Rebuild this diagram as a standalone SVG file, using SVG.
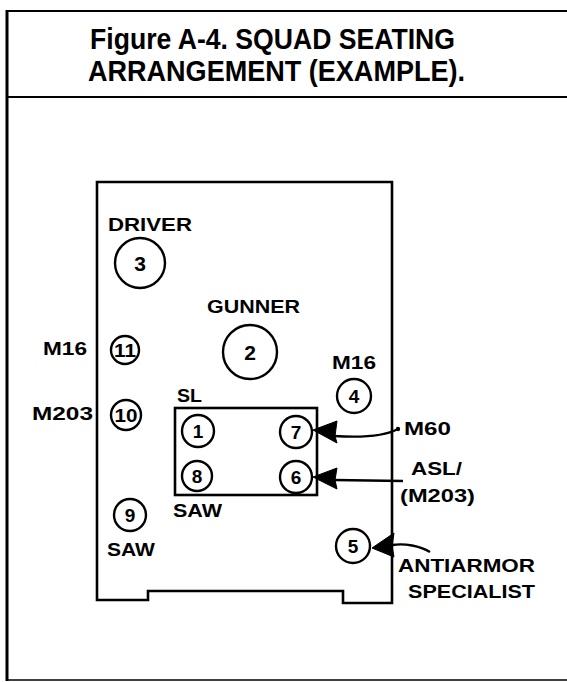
<svg xmlns="http://www.w3.org/2000/svg" width="567" height="682" viewBox="0 0 567 682">
<style>
text{font-family:"Liberation Sans",Arial,sans-serif;font-weight:bold;fill:#000}
.title{font-size:29px}
.lbl{font-size:18.5px}
.num{font-size:19px;text-anchor:middle}
.big{font-size:21px;text-anchor:middle}
.seat{fill:#fff;stroke:#000;stroke-width:2.4}
.frame{fill:none;stroke:#000}
.conn{fill:none;stroke:#000;stroke-width:2.4}
.head{fill:#000;stroke:#000;stroke-width:1;stroke-linejoin:round}
</style>
<rect width="567" height="682" fill="#fff"/>
<g id="frame">
<line class="frame" x1="7" y1="10" x2="7" y2="681" stroke-width="3"/>
<line class="frame" x1="6" y1="11" x2="567" y2="11" stroke-width="2"/>
<line class="frame" x1="6" y1="97" x2="567" y2="97" stroke-width="2"/>
<line class="frame" x1="6" y1="680" x2="567" y2="680" stroke-width="1.5"/>
<text class="title" x="90" y="49" textLength="365" lengthAdjust="spacingAndGlyphs">Figure A-4.  SQUAD SEATING</text>
<text class="title" x="88" y="81" textLength="377" lengthAdjust="spacingAndGlyphs">ARRANGEMENT (EXAMPLE).</text>
</g>
<g id="vehicle">
<path class="frame" stroke-width="2.6" d="M97,182 H392 V603 H343 V591 H148 V600 H97 Z"/>
</g>
<g id="squad-box">
<rect class="frame" stroke-width="2.6" x="175" y="408" width="142" height="87"/>
</g>
<g id="seat-3">
<circle class="seat" cx="140" cy="263" r="25"/>
<text class="big" x="140" y="270.5">3</text>
<text class="lbl" x="108" y="231" textLength="84" lengthAdjust="spacingAndGlyphs">DRIVER</text>
</g>
<g id="seat-2">
<circle class="seat" cx="250" cy="352" r="27"/>
<text class="big" x="250" y="359.5">2</text>
<text class="lbl" x="207" y="313" textLength="93" lengthAdjust="spacingAndGlyphs">GUNNER</text>
</g>
<g id="seat-11">
<circle class="seat" cx="125" cy="350" r="14"/>
<text class="num" x="125" y="357" textLength="22" lengthAdjust="spacingAndGlyphs">11</text>
<text class="lbl" x="43" y="355" textLength="44" lengthAdjust="spacingAndGlyphs">M16</text>
</g>
<g id="seat-10">
<circle class="seat" cx="126" cy="415" r="15"/>
<text class="num" x="126" y="422" textLength="23" lengthAdjust="spacingAndGlyphs">10</text>
<text class="lbl" x="32" y="420" textLength="61" lengthAdjust="spacingAndGlyphs">M203</text>
</g>
<g id="seat-4">
<circle class="seat" cx="354" cy="396" r="17"/>
<text class="num" x="354" y="403">4</text>
<text class="lbl" x="332" y="369" textLength="44" lengthAdjust="spacingAndGlyphs">M16</text>
</g>
<g id="seat-1">
<circle class="seat" cx="198" cy="431" r="16"/>
<text class="num" x="198" y="438">1</text>
<text class="lbl" x="177" y="402" textLength="25" lengthAdjust="spacingAndGlyphs">SL</text>
</g>
<g id="seat-7">
<circle class="seat" cx="296" cy="432" r="16"/>
<text class="num" x="296" y="439">7</text>
</g>
<g id="seat-8">
<circle class="seat" cx="197" cy="476" r="15"/>
<text class="num" x="197" y="483">8</text>
<text class="lbl" x="173" y="517" textLength="49" lengthAdjust="spacingAndGlyphs">SAW</text>
</g>
<g id="seat-6">
<circle class="seat" cx="296" cy="477" r="16"/>
<text class="num" x="296" y="484">6</text>
</g>
<g id="seat-9">
<circle class="seat" cx="130" cy="515" r="16"/>
<text class="num" x="130" y="522">9</text>
<text class="lbl" x="107" y="556" textLength="48" lengthAdjust="spacingAndGlyphs">SAW</text>
</g>
<g id="seat-5">
<circle class="seat" cx="353" cy="546" r="17"/>
<text class="num" x="353" y="553">5</text>
</g>
<g id="label-m60">
<text class="lbl" x="404" y="435" textLength="47" lengthAdjust="spacingAndGlyphs">M60</text>
</g>
<g id="label-asl">
<text class="lbl" x="411" y="475" textLength="51" lengthAdjust="spacingAndGlyphs">ASL/</text>
<text class="lbl" x="400" y="502" textLength="75" lengthAdjust="spacingAndGlyphs">(M203)</text>
</g>
<g id="label-antiarmor">
<text class="lbl" x="398" y="572" textLength="137" lengthAdjust="spacingAndGlyphs">ANTIARMOR</text>
<text class="lbl" x="408" y="598" textLength="127" lengthAdjust="spacingAndGlyphs">SPECIALIST</text>
</g>
<g id="connectors">
<path class="conn" d="M398,429 C385,436 365,438 334,436"/>
<circle cx="398" cy="429" r="2.2" fill="#000"/>
<path class="head" d="M313,430 L337,421 L335,436 L337,443 Z"/>
<path class="conn" d="M403,481 L334,480"/>
<path class="head" d="M313,477 L337,468 L335,480 L337,489 Z"/>
<path class="conn" d="M430,552 C420,546 405,543 392,545"/>
<path class="head" d="M372,548 L394,533 L392,546 L394,557 Z"/>
</g>
</svg>
